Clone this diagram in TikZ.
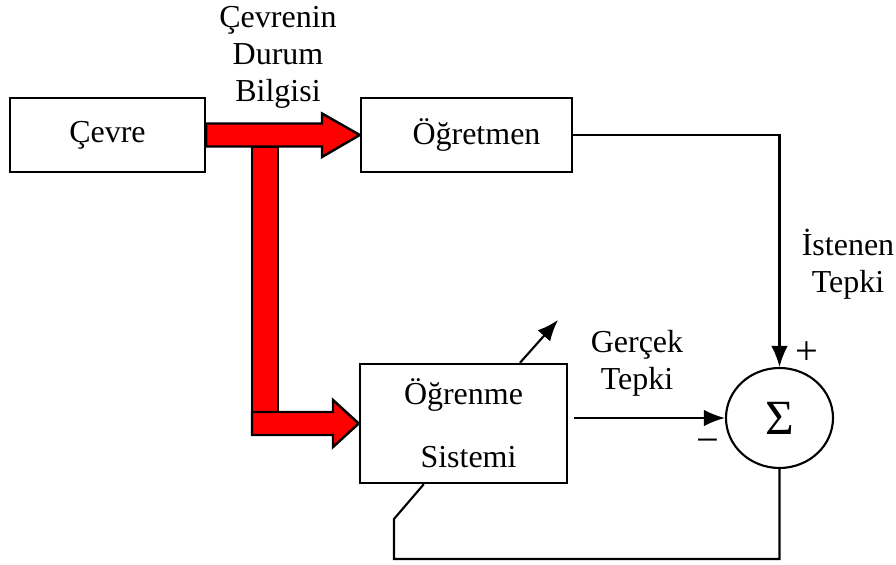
\documentclass[tikz,border=0pt]{standalone}
\usepackage{fontspec}
\setmainfont{Liberation Serif}
\usetikzlibrary{calc,arrows.meta,shapes.geometric}
\tikzset{
    blok/.style={draw,line width=1.4pt,minimum height=1.48cm},
    redarrow/.style={draw=black,fill=red,line width=1.4pt,line join=miter},
    sig/.style={line width=1.2pt,-{Latex[length=12pt,width=9.5pt]}},
    hat/.style={line width=1.2pt},
    isaret/.style={font=\fontsize{23}{23}\selectfont}
}

\begin{document}
\begin{tikzpicture}[font=\fontsize{18.2}{21}\selectfont]
        \useasboundingbox (0,0) rectangle (17.92,-11.3);
        \node[blok,minimum width=3.9cm] (cevre) at (2.15,-2.7) {Çevre};
        \node[blok,minimum width=4.22cm] (ogretmen) at (9.33,-2.7) {\hspace{0.4cm}Öğretmen};
        \node[blok,minimum width=4.14cm,minimum height=2.38cm,align=center] (ogrenme) at (9.27,-8.47) {\raisebox{3pt}{Öğrenme}\\[12pt]\hspace{0.2cm}Sistemi};
        \node[ellipse,draw,line width=1.2pt,minimum width=2.14cm,minimum height=2cm] (toplam) at (15.59,-8.36) {\fontsize{28}{28}\selectfont Σ};
        \node[align=center] (durum) at (5.56,-1.14) {Çevrenin\\Durum\\Bilgisi};
        \node[align=center] (istenen) at (16.96,-5.28) {İstenen\\Tepki};
        \node[align=center] (gercek) at (12.74,-7.26) {Gerçek\\Tepki};
        \node[isaret] (arti) at (16.14,-7.06) {+};
        \node[isaret] (eksi) at (14.16,-8.92) {−};
        \draw[redarrow] (5.04,-2.94) rectangle (5.56,-8.24);
        \draw[redarrow] ($(cevre.east)+(0,0.23)$) -- (6.44,-2.47) -- (6.44,-2.27) -- (ogretmen.west) -- (6.44,-3.14) -- (6.44,-2.93) -- ($(cevre.east)+(0,-0.23)$) -- cycle;
        \draw[redarrow] (5.04,-8.24) -- (6.66,-8.24) -- (6.66,-8.0) -- (ogrenme.west) -- (6.66,-8.94) -- (6.66,-8.7) -- (5.04,-8.7) -- cycle;
        \draw[sig] (ogretmen.east) -| (toplam.north);
        \draw[sig,shorten <=0.12cm] (ogrenme.east |- toplam.west) -- (toplam.west);
        \coordinate (ayar) at (11.16,-6.4);
        \draw[sig] ($(ogrenme.north)+(1.13,0)$) -- (ayar);
        \draw[hat] (toplam.south) -- ++(0,-1.8) -| (7.88,-10.38) -- ($(ogrenme.south west)+(1.3,0)$);
    \end{tikzpicture}
\end{document}
